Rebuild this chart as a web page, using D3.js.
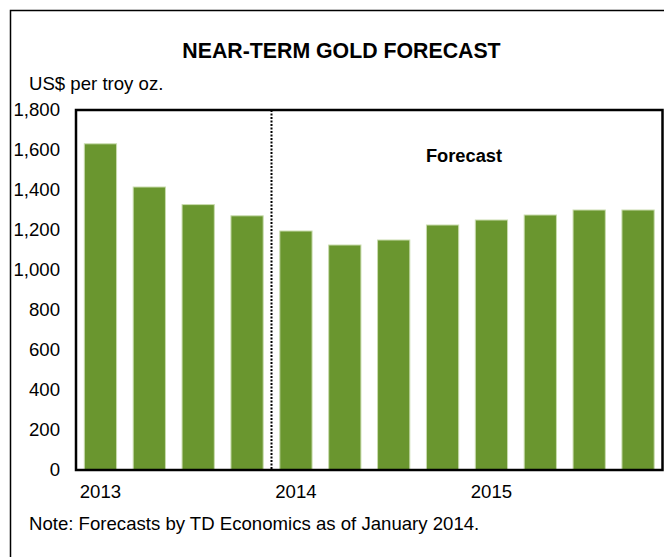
<!DOCTYPE html>
<html>
<head>
<meta charset="utf-8">
<script src="https://cdn.jsdelivr.net/npm/d3@7"></script>
<style>
  html, body { margin: 0; padding: 0; background: #fff; }
  svg { display: block; font-family: "Liberation Sans", Arial, sans-serif; }
</style>
</head>
<body>
<svg id="chart" width="664" height="557"></svg>
<script>
// ---- Data ----
const quarters = ["2013Q1","2013Q2","2013Q3","2013Q4","2014Q1","2014Q2","2014Q3","2014Q4","2015Q1","2015Q2","2015Q3","2015Q4"];
const goldPrice = [1631, 1415, 1327, 1271, 1195, 1125, 1150, 1225, 1250, 1275, 1300, 1300];
const yearLabels = ["2013", "2014", "2015"];
const yearLabelAt = ["2013Q1", "2014Q1", "2015Q1"];
const yTicks = [0, 200, 400, 600, 800, 1000, 1200, 1400, 1600, 1800];
const forecastStart = "2014Q1";

const FS = 18.6;
const svg = d3.select("#chart");

// Outer frame
svg.append("rect")
  .attr("x", 10.5).attr("y", 10.5)
  .attr("width", 720).attr("height", 620)
  .attr("fill", "none").attr("stroke", "#000").attr("stroke-width", 1.5);

const plot = { left: 76, right: 662.5, top: 110, bottom: 470 };

const x = d3.scaleBand()
  .domain(quarters)
  .range([plot.left, plot.right])
  .paddingInner(0.34)
  .paddingOuter(0.17);

const y = d3.scaleLinear()
  .domain([0, 1800])
  .range([plot.bottom, plot.top]);

// Title
svg.append("text")
  .attr("x", 341.5).attr("y", 58)
  .attr("text-anchor", "middle")
  .attr("font-weight", "bold")
  .attr("font-size", 21.3)
  .text("NEAR-TERM GOLD FORECAST");

// Unit label
svg.append("text")
  .attr("x", 29).attr("y", 90)
  .attr("font-size", FS)
  .text("US$ per troy oz.");

// Bars
svg.append("g").selectAll("rect")
  .data(quarters)
  .join("rect")
  .attr("x", d => x(d))
  .attr("width", x.bandwidth())
  .attr("y", (d, i) => y(goldPrice[i]))
  .attr("height", (d, i) => y(0) - y(goldPrice[i]))
  .attr("fill", "#6a962f")
  .attr("stroke", "#c9dcae")
  .attr("stroke-width", 1);

// Forecast divider (dotted)
const step = x.step();
const divX = x(forecastStart) - x.paddingInner() * step / 2;
svg.append("line")
  .attr("x1", divX).attr("x2", divX)
  .attr("y1", plot.top).attr("y2", plot.bottom)
  .attr("stroke", "#000")
  .attr("stroke-width", 2)
  .attr("stroke-dasharray", "2,1.5");

// Forecast label
svg.append("text")
  .attr("x", 464).attr("y", 162)
  .attr("text-anchor", "middle")
  .attr("font-weight", "bold")
  .attr("font-size", 18.3)
  .text("Forecast");

// Y axis
const yAxis = d3.axisLeft(y)
  .tickValues(yTicks)
  .tickFormat(d3.format(","))
  .tickSize(0)
  .tickPadding(16);
const gy = svg.append("g")
  .attr("transform", `translate(${plot.left},0)`)
  .call(yAxis);
gy.select(".domain").remove();
gy.selectAll("text")
  .attr("font-size", FS)
  .attr("font-family", "Liberation Sans, Arial, sans-serif")
  .attr("fill", "#000");

// X axis labels (years)
const xAxis = d3.axisBottom(x)
  .tickValues(yearLabelAt)
  .tickFormat((d) => yearLabels[yearLabelAt.indexOf(d)])
  .tickSize(0)
  .tickPadding(15);
const gx = svg.append("g")
  .attr("transform", `translate(0,${plot.bottom})`)
  .call(xAxis);
gx.select(".domain").remove();
gx.selectAll("text")
  .attr("font-size", FS)
  .attr("font-family", "Liberation Sans, Arial, sans-serif")
  .attr("fill", "#000");

// Plot frame
svg.append("rect")
  .attr("x", plot.left).attr("y", plot.top)
  .attr("width", plot.right - plot.left)
  .attr("height", plot.bottom - plot.top)
  .attr("fill", "none")
  .attr("stroke", "#000")
  .attr("stroke-width", 2.5);

// Note
svg.append("text")
  .attr("x", 29).attr("y", 530)
  .attr("font-size", FS)
  .text("Note: Forecasts by TD Economics as of January 2014.");
</script>
</body>
</html>
